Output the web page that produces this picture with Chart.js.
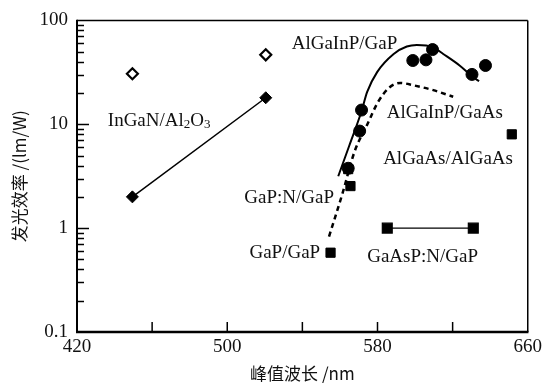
<!DOCTYPE html>
<html>
<head>
<meta charset="utf-8">
<script src="https://cdn.jsdelivr.net/npm/chart.js@4.4.1/dist/chart.umd.min.js"></script>
<style>
  html, body { margin: 0; padding: 0; background: #fff; }
</style>
</head>
<body>
<canvas id="graf" width="546" height="384"></canvas>
<script>
// dados (nm, lm/W)
const inganNm = [449.5, 520.5]
const inganFilled = [2.0, 18]
const inganOpen = [30.6, 46.6]

const algainpGapNm = [571.5, 570.5, 564.4, 598.8, 605.8, 609.3, 630.3, 637.5]
const algainpGapVal = [13.7, 8.6, 3.77, 41.1, 41.7, 52.4, 30.2, 36.8]

const curveGapNm = [559.1, 565.0, 571.4, 574.5, 579.8, 588.6, 595.6, 600.9, 609.7, 615, 623.7, 630.8, 634.1]
const curveGapVal = [3.16, 6.25, 13.2, 20.5, 31.8, 47.5, 56, 58, 55, 47.5, 36.8, 28.5, 26]

const curveGaAsNm = [554.2, 561.4, 567.8, 574.5, 580.3, 586.1, 592.1, 599.2, 609.7, 620.3]
const curveGaAsVal = [0.83, 2.17, 5.47, 9.9, 16.4, 22.4, 25, 23.7, 21.3, 18.4]

const squareNm = [565.6, 564.4, 555, 651.5]
const squareVal = [2.54, 3.7, 0.58, 8.0]

const gaaspNm = [585.2, 631]
const gaaspVal = [1.0, 1.0]

const xTicks = [420, 500, 580, 660]
const xMinor = [460, 500, 540, 580, 620]
const yTicks = [0.1, 1, 10, 100]

// rótulos do gráfico (posição em nm / lm/W)
const rotulos = [
  { x: 534.3, y: 58.9, parts: [['AlGaInP/GaP', 0]] },
  { x: 436.4, y: 10.8, parts: [['InGaN/Al', 0], ['2', 1], ['O', 0], ['3', 1]] },
  { x: 584.9, y: 12.9, parts: [['AlGaInP/GaAs', 0]] },
  { x: 583, y: 4.59, parts: [['AlGaAs/AlGaAs', 0]] },
  { x: 509.1, y: 1.95, parts: [['GaP:N/GaP', 0]] },
  { x: 511.8, y: 0.58, parts: [['GaP/GaP', 0]] },
  { x: 574.5, y: 0.53, parts: [['GaAsP:N/GaP', 0]] }
]

const pts = (xs, ys) => xs.map((v, i) => ({ x: v, y: ys[i] }))

const serif = "'Liberation Serif', 'Times New Roman', serif"
const cjk = "'Noto Sans CJK SC', sans-serif"

// moldura, marcas e rótulos
const decor = {
  id: 'decor',
  afterDraw(chart) {
    const { ctx, chartArea: a } = chart
    const x = chart.scales.x
    const y = chart.scales.y
    ctx.save()
    const line = (x1, y1, x2, y2, w) => {
      ctx.strokeStyle = '#000'
      ctx.lineWidth = w
      ctx.beginPath(); ctx.moveTo(x1, y1); ctx.lineTo(x2, y2); ctx.stroke()
    }
    line(a.left, a.top, a.right, a.top, 1.5)
    line(a.right, a.top, a.right, a.bottom, 1.5)
    line(a.left, a.top - 0.7, a.left, a.bottom, 2)
    line(a.left - 1, a.bottom, a.right + 0.7, a.bottom, 2.5)

    // marcas do eixo y: décadas e subdivisões 2..9
    for (let d = 0; d < yTicks.length - 1; d++) {
      for (let k = 1; k <= 9; k++) {
        const v = yTicks[d] * k
        if (d === 0 && k === 1) continue
        const py = Math.round(y.getPixelForValue(v)) + 0.5
        line(a.left, py, a.left + (k === 1 ? 12 : 7), py, 1.5)
      }
    }
    xMinor.forEach(v => {
      const px = x.getPixelForValue(v)
      line(px, a.bottom, px, a.bottom - 10, 1.5)
    })

    ctx.fillStyle = '#111'
    ctx.textBaseline = 'middle'
    ctx.textAlign = 'left'
    rotulos.forEach(r => {
      let px = x.getPixelForValue(r.x)
      const py = y.getPixelForValue(r.y)
      r.parts.forEach(([txt, sub]) => {
        ctx.font = sub ? '13px ' + serif : '19px ' + serif
        ctx.fillText(txt, px, sub ? py + 4 : py)
        px += ctx.measureText(txt).width
      })
    })
    ctx.restore()
  }
}

const ctx = document.getElementById('graf').getContext('2d')

new Chart(ctx, {
  type: 'scatter',
  data: {
    datasets: [
      {
        label: 'InGaN/Al2O3',
        data: pts(inganNm, inganFilled),
        showLine: true,
        borderColor: '#000',
        borderWidth: 1.5,
        pointStyle: 'rectRot',
        pointRadius: 6,
        pointBackgroundColor: '#000',
        pointBorderColor: '#000',
        pointBorderWidth: 1
      },
      {
        label: 'InGaN/Al2O3 (aberto)',
        data: pts(inganNm, inganOpen),
        pointStyle: 'rectRot',
        pointRadius: 5.5,
        pointBackgroundColor: '#fff',
        pointBorderColor: '#000',
        pointBorderWidth: 2.2
      },
      {
        label: 'AlGaInP/GaP',
        data: pts(algainpGapNm, algainpGapVal),
        pointStyle: 'circle',
        pointRadius: 6,
        pointBackgroundColor: '#000',
        pointBorderColor: '#000'
      },
      {
        label: 'GaAsP:N/GaP',
        data: pts(gaaspNm, gaaspVal),
        showLine: true,
        borderColor: '#000',
        borderWidth: 1.2,
        pointStyle: 'rect',
        pointRadius: 7,
        pointBackgroundColor: '#000',
        pointBorderColor: '#000'
      },
      {
        label: 'GaP',
        data: pts(squareNm, squareVal),
        pointStyle: 'rect',
        pointRadius: 6.5,
        pointBackgroundColor: '#000',
        pointBorderColor: '#000'
      },
      {
        label: 'curva AlGaInP/GaP',
        data: pts(curveGapNm, curveGapVal),
        showLine: true,
        borderColor: '#000',
        borderWidth: 2,
        pointRadius: 0,
        cubicInterpolationMode: 'monotone'
      },
      {
        label: 'curva AlGaInP/GaAs',
        data: pts(curveGaAsNm, curveGaAsVal),
        showLine: true,
        borderColor: '#000',
        borderWidth: 2.5,
        borderDash: [5, 4],
        pointRadius: 0,
        cubicInterpolationMode: 'monotone'
      }
    ]
  },
  options: {
    responsive: false,
    animation: false,
    layout: { padding: { top: 18, right: 14, left: 0, bottom: 0 } },
    plugins: {
      legend: { display: false },
      tooltip: { enabled: false }
    },
    scales: {
      x: {
        type: 'linear',
        min: 420,
        max: 660,
        grid: { display: false, drawTicks: false },
        border: { display: false },
        ticks: {
          stepSize: 40,
          autoSkip: false,
          maxRotation: 0,
          padding: 4,
          color: '#111',
          font: { family: serif, size: 19 },
          callback: v => xTicks.includes(v) ? String(v) : ''
        },
        title: {
          display: true,
          text: '峰值波长 /nm',
          color: '#111',
          font: { family: cjk, size: 17 },
          padding: { top: 0, bottom: 0 }
        },
        afterFit: s => { s.height = 52 }
      },
      y: {
        type: 'logarithmic',
        min: 0.1,
        max: 100,
        grid: { display: false, drawTicks: false },
        border: { display: false },
        ticks: {
          autoSkip: false,
          padding: 9,
          color: '#111',
          font: { family: serif, size: 19 },
          callback: v => yTicks.some(t => Math.abs(t - v) < 1e-9) ? String(v) : ''
        },
        title: {
          display: true,
          text: '发光效率 /(lm/W)',
          color: '#111',
          font: { family: cjk, size: 17 },
          padding: { top: 9, bottom: 0 }
        },
        afterFit: s => { s.width = 77 }
      }
    }
  },
  plugins: [decor]
})
</script>
</body>
</html>
